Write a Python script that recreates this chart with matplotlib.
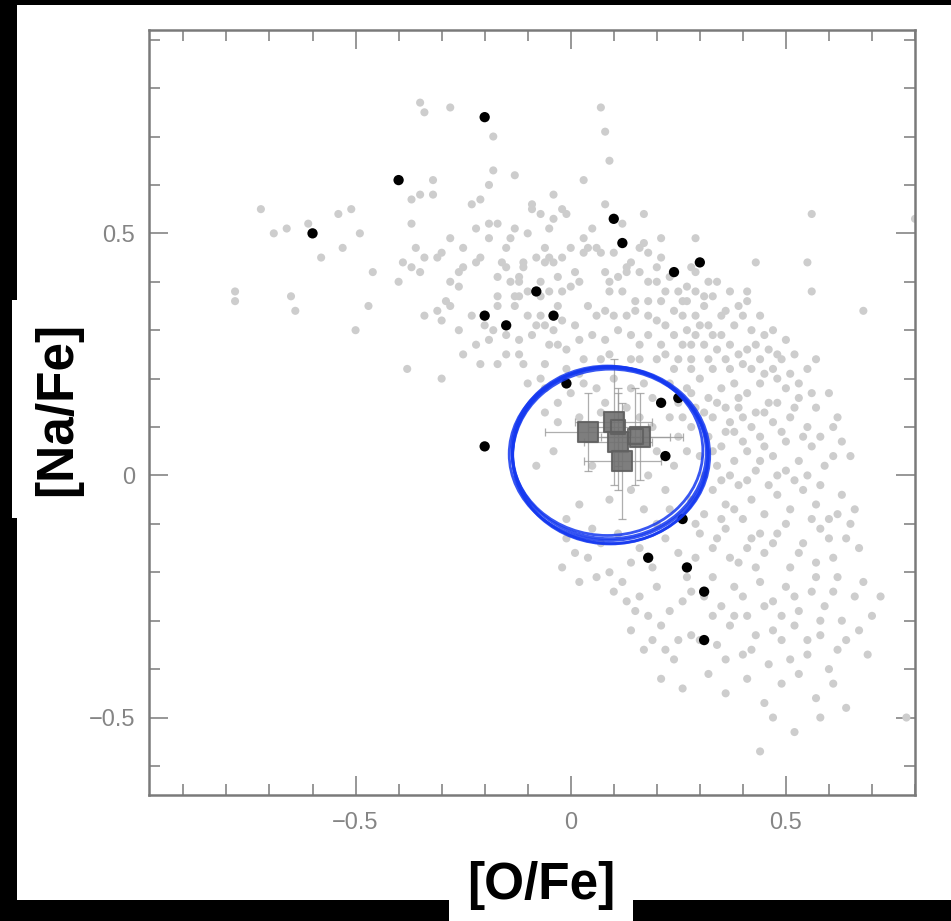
import matplotlib
matplotlib.use("Agg")
import matplotlib.pyplot as plt
from matplotlib.patches import Ellipse, Rectangle
from matplotlib.ticker import MultipleLocator

# ---------------- data ----------------
# comparison sample (light grey points): ([O/Fe], [Na/Fe])
grey_pts = [
    (-0.35,0.77),(-0.34,0.75),(-0.28,0.76),(-0.18,0.70),(-0.18,0.63),(-0.13,0.62),(-0.32,0.61),
    (-0.32,0.58),(-0.35,0.58),(-0.37,0.57),(-0.19,0.60),(-0.21,0.57),(-0.23,0.56),(-0.09,0.56),
    (-0.09,0.55),(-0.07,0.54),(-0.04,0.58),(-0.72,0.55),(-0.66,0.51),(-0.69,0.50),(-0.61,0.52),
    (-0.54,0.54),(-0.51,0.55),(-0.49,0.50),(-0.58,0.45),(-0.53,0.47),(-0.46,0.42),(-0.40,0.40),
    (-0.37,0.52),(-0.36,0.47),(-0.34,0.45),(-0.39,0.44),(-0.37,0.43),(-0.35,0.42),(-0.28,0.49),
    (-0.30,0.46),(-0.31,0.45),(-0.25,0.47),(-0.22,0.51),(-0.19,0.49),(-0.19,0.52),(-0.17,0.52),
    (-0.14,0.49),(-0.13,0.51),(-0.10,0.50),(-0.05,0.51),(-0.04,0.53),(-0.06,0.47),(-0.05,0.45),
    (-0.04,0.44),(-0.21,0.45),(-0.22,0.44),(-0.16,0.44),(-0.15,0.43),(-0.11,0.44),(-0.11,0.43),
    (-0.12,0.41),(-0.12,0.40),(-0.25,0.43),(-0.26,0.42),(-0.28,0.40),(-0.26,0.39),(-0.17,0.41),
    (-0.17,0.37),(-0.17,0.35),(-0.13,0.37),(-0.12,0.37),(-0.13,0.35),(-0.07,0.40),(-0.07,0.37),
    (-0.05,0.38),(-0.29,0.36),(-0.28,0.35),(-0.31,0.34),(-0.30,0.32),(-0.34,0.33),(-0.47,0.35),
    (-0.50,0.30),(-0.78,0.38),(-0.78,0.36),(-0.65,0.37),(-0.64,0.34),(-0.10,0.33),(-0.07,0.33),
    (-0.20,0.31),(-0.18,0.30),(-0.08,0.31),(-0.09,0.29),(-0.04,0.30),(-0.05,0.27),(-0.19,0.28),
    (-0.25,0.25),(-0.21,0.23),(-0.17,0.23),(-0.15,0.25),(-0.12,0.25),(-0.11,0.23),(-0.38,0.22),
    (-0.30,0.20),(-0.07,0.20),
    (-0.15,0.47),(-0.08,0.45),(-0.02,0.45),(-0.10,0.38),(-0.14,0.40),(-0.03,0.35),(-0.15,0.29),
    (-0.12,0.28),(-0.23,0.33),(-0.26,0.30),(-0.22,0.27),(-0.01,0.26),(-0.06,0.23),(-0.01,0.22),
    (0.07,0.76),(0.08,0.71),(0.09,0.65),(0.03,0.61),(0.08,0.56),(0.17,0.54),(-0.02,0.55),
    (-0.01,0.54),(0.05,0.51),(0.12,0.52),(0.21,0.49),(0.29,0.49),(0.17,0.48),(0.16,0.47),
    (0.18,0.46),(0.14,0.44),(0.13,0.43),(0.10,0.46),(0.03,0.49),(0.00,0.47),(0.03,0.46),
    (0.04,0.47),(0.06,0.47),(0.07,0.46),(0.21,0.45),(0.20,0.43),(0.28,0.43),(0.29,0.42),
    (0.32,0.40),(0.43,0.44),(0.55,0.44),(0.56,0.54),(0.56,0.38),(0.68,0.34),(0.80,0.53),
    (0.37,0.38),(0.41,0.38),(0.41,0.36),(0.39,0.35),(0.44,0.33),(0.42,0.30),(0.46,0.26),
    (0.48,0.25),(0.49,0.24),(0.57,0.24),(0.47,0.22),(-0.06,0.44),(-0.03,0.41),(-0.02,0.38),
    (0.00,0.39),(0.02,0.40),(0.01,0.42),(0.08,0.42),(0.09,0.40),(0.11,0.41),(0.13,0.42),
    (0.16,0.42),(0.18,0.40),(0.20,0.40),(0.22,0.38),(0.25,0.38),(0.27,0.39),(0.29,0.38),
    (0.31,0.37),(0.33,0.37),(0.27,0.36),(0.21,0.36),(0.18,0.36),(0.15,0.36),(0.12,0.38),
    (0.09,0.38),(0.04,0.35),(0.06,0.33),(0.08,0.34),(0.10,0.33),(0.13,0.33),(0.15,0.34),
    (0.18,0.33),(0.20,0.32),(0.26,0.33),(0.29,0.33),(0.32,0.31),(0.33,0.29),(0.35,0.29),
    (0.37,0.27),(0.39,0.25),(-0.06,0.31),(-0.02,0.32),(0.01,0.31),(0.02,0.28),(-0.03,0.27),
    (0.03,0.24),(0.05,0.29),(0.08,0.28),(0.11,0.30),(0.14,0.29),(0.16,0.27),(0.18,0.29),
    (0.21,0.27),(0.24,0.29),(0.26,0.27),(0.28,0.27),(0.29,0.29),(0.22,0.25),(0.25,0.24),
    (0.28,0.24),(0.32,0.24),(0.33,0.22),(0.20,0.24),(0.16,0.24),(0.14,0.24),(0.09,0.25),
    (0.07,0.24),(0.24,0.22),(0.28,0.22),(0.40,0.23),(0.37,0.22),(0.42,0.22),
    (0.23,0.41),(0.26,0.36),(0.31,0.35),(0.34,0.40),(0.36,0.34),(0.38,0.31),(0.40,0.33),
    (0.45,0.29),(0.43,0.27),(0.35,0.33),(0.24,0.34),(0.22,0.31),(0.27,0.30),(0.30,0.31),
    (0.34,0.26),(0.31,0.27),(0.36,0.24),(0.41,0.26),(0.44,0.24),(0.48,0.20),(0.45,0.21),
    (0.51,0.21),(0.53,0.19),(0.55,0.22),(0.52,0.25),(0.50,0.28),(0.47,0.30),
    # lower part of the cloud
    (0.00,0.17),(0.03,0.19),(0.06,0.18),(0.10,0.20),(0.14,0.18),(0.17,0.19),(0.19,0.16),
    (0.23,0.19),(0.27,0.18),(0.30,0.20),(0.32,0.16),(0.35,0.18),(0.38,0.19),(0.41,0.17),
    (0.44,0.19),(0.46,0.15),(0.50,0.18),(0.53,0.16),(0.57,0.14),(0.60,0.17),(0.29,0.14),
    (0.33,0.12),(0.36,0.14),(0.40,0.12),(0.43,0.13),(0.47,0.11),(0.51,0.12),(0.55,0.10),
    (0.39,0.16),(0.26,0.12),(-0.06,0.13),(-0.03,0.11),(0.62,0.12),
    (0.25,0.15),(0.28,0.17),(0.31,0.13),(0.34,0.15),(0.37,0.11),(0.39,0.14),(0.42,0.10),
    (0.45,0.13),(0.48,0.15),(0.49,0.09),(0.52,0.14),(0.56,0.17),(0.58,0.08),(0.61,0.10),
    (0.54,0.08),(0.45,0.06),(0.40,0.07),(0.36,0.09),(0.33,0.05),(0.30,0.04),
    (0.32,0.08),(0.35,0.06),(0.38,0.09),(0.41,0.05),(0.44,0.08),(0.47,0.04),(0.50,0.07),
    (0.53,0.03),(0.56,0.06),(0.59,0.02),(0.63,0.07),(0.65,0.04),(0.34,0.02),(0.37,0.00),
    (0.43,0.01),(0.48,0.00),(-0.04,0.05),(-0.08,0.02),
    (0.31,0.00),(0.35,-0.01),(0.38,0.03),(0.41,-0.01),(0.44,0.03),(0.46,-0.02),(0.50,0.01),
    (0.52,-0.01),(0.55,0.00),(0.58,-0.02),(0.61,0.04),
    (0.33,-0.03),(0.36,-0.06),(0.39,-0.02),(0.42,-0.05),(0.45,-0.08),(0.48,-0.04),(0.51,-0.07),
    (0.54,-0.03),(0.57,-0.06),(0.60,-0.09),(0.63,-0.04),(0.66,-0.07),(0.40,-0.09),(0.31,-0.08),
    (0.02,-0.06),(-0.01,-0.09),
    (0.56,-0.09),(0.50,-0.10),(0.44,-0.12),(0.38,-0.07),(0.35,-0.09),(0.34,-0.13),(0.41,-0.15),
    (0.47,-0.14),(0.53,-0.16),(0.57,-0.18),(0.60,-0.13),(0.62,-0.08),(0.65,-0.10),(0.67,-0.15),
    (0.43,-0.19),(0.37,-0.17),(0.29,-0.17),(0.23,-0.07),(0.28,-0.05),(0.29,-0.10),(0.20,-0.10),
    (0.16,-0.15),(0.05,-0.11),(0.01,-0.16),(-0.02,-0.19),
    (-0.01,-0.13),(0.04,-0.17),(0.07,-0.14),(0.11,-0.12),(0.14,-0.18),(0.22,-0.13),(0.25,-0.16),
    (0.30,-0.12),(0.33,-0.15),(0.36,-0.11),(0.39,-0.18),(0.42,-0.13),(0.45,-0.16),(0.48,-0.12),
    (0.51,-0.19),(0.54,-0.14),(0.58,-0.11),(0.61,-0.17),(0.64,-0.13),(0.19,-0.19),(0.09,-0.20),
    (0.12,-0.22),(0.16,-0.25),(0.20,-0.23),(0.23,-0.28),(0.28,-0.24),(0.33,-0.21),(0.35,-0.27),
    (0.38,-0.23),(0.41,-0.29),(0.44,-0.22),(0.47,-0.26),(0.50,-0.23),(0.53,-0.28),(0.56,-0.24),
    (0.59,-0.27),(0.62,-0.21),(0.66,-0.25),(0.70,-0.29),
    (0.27,-0.21),(0.31,-0.25),(0.26,-0.26),(0.40,-0.25),(0.45,-0.27),(0.49,-0.29),(0.52,-0.25),
    (0.57,-0.21),(0.58,-0.30),(0.61,-0.24),(0.63,-0.30),(0.68,-0.22),(0.72,-0.25),(0.38,-0.29),
    (0.33,-0.29),(0.18,-0.29),(0.15,-0.28),(0.13,-0.26),(0.10,-0.24),(0.06,-0.21),(0.02,-0.22),
    (0.14,-0.32),(0.17,-0.36),(0.21,-0.31),(0.24,-0.38),(0.28,-0.33),(0.34,-0.35),(0.37,-0.31),
    (0.40,-0.37),(0.43,-0.33),(0.46,-0.39),(0.49,-0.34),(0.52,-0.31),(0.55,-0.37),(0.58,-0.33),
    (0.62,-0.36),(0.67,-0.32),
    (0.30,-0.34),(0.36,-0.38),(0.42,-0.36),(0.47,-0.32),(0.51,-0.38),(0.55,-0.34),(0.60,-0.40),
    (0.64,-0.34),(0.69,-0.37),(0.25,-0.34),(0.19,-0.34),(0.22,-0.36),
    (0.21,-0.42),(0.26,-0.44),(0.32,-0.41),(0.36,-0.45),(0.41,-0.42),(0.45,-0.47),(0.49,-0.43),
    (0.53,-0.41),(0.57,-0.46),(0.61,-0.43),(0.64,-0.48),(0.47,-0.50),(0.58,-0.50),(0.78,-0.50),
    (0.44,-0.57),(0.52,-0.53),
    # inside the highlighted region
    (0.08,0.15),(0.13,0.14),(0.16,0.12),(0.19,0.10),(0.20,0.05),(0.18,0.00),(0.14,-0.03),
    (0.09,-0.05),(0.05,0.02),(0.02,0.12),(0.07,0.13),(0.23,0.12),(0.25,0.08),(0.24,0.02),
    (0.27,0.05),(0.28,0.10),(0.22,-0.03),(0.17,-0.07),(-0.06,0.18),(-0.10,0.19),(-0.03,0.15),
    (0.02,0.21),(-0.02,0.20),
]
grey_x = [p[0] for p in grey_pts]
grey_y = [p[1] for p in grey_pts]

# target stars (black dots)
black_x = [-0.20, -0.40, -0.60, 0.10, 0.12, 0.24, 0.30, -0.08, -0.20, -0.15, -0.04,
           -0.01, 0.21, 0.25, -0.20, 0.22, 0.26, 0.18, 0.27, 0.31, 0.31]
black_y = [0.74, 0.61, 0.50, 0.53, 0.48, 0.42, 0.44, 0.38, 0.33, 0.31, 0.33,
           0.19, 0.15, 0.16, 0.06, 0.04, -0.09, -0.17, -0.19, -0.24, -0.34]

# mean values with error bars (grey squares)
sq_x = [0.04, 0.10, 0.11, 0.16, 0.12, 0.11, 0.15]
sq_y = [0.09, 0.11, 0.07, 0.08, 0.03, 0.10, 0.08]
sq_xerr = [0.10, 0.09, 0.08, 0.10, 0.09, 0.07, 0.08]
sq_yerr = [0.08, 0.13, 0.10, 0.09, 0.12, 0.08, 0.10]
sq_filled = [True, True, True, True, True, False, False]

# hand-drawn highlight ellipse: centre, width, height (data units)
ell_center = (0.09, 0.047)
ell_width = 0.45
ell_height = 0.355

xlim = (-0.98, 0.80)
ylim = (-0.66, 0.92)

# ---------------- figure ----------------
W, H = 951, 921
fig = plt.figure(figsize=(W / 100, H / 100), dpi=100)
fig.patch.set_facecolor("black")
fig.add_artist(Rectangle((17 / W, 21 / H), (W - 17) / W, (H - 26) / H,
                         transform=fig.transFigure, facecolor="white",
                         edgecolor="none", zorder=0))

ax = fig.add_axes([149 / W, (H - 795) / H, (915 - 149) / W, (795 - 30) / H])
ax.set_facecolor("white")

ax.scatter(grey_x, grey_y, s=34, color="#cdcdcd", edgecolors="none", zorder=2)

for x, y, xe, ye, f in zip(sq_x, sq_y, sq_xerr, sq_yerr, sq_filled):
    ax.errorbar(x, y, xerr=xe, yerr=ye, fmt="none", ecolor="#9a9a9a",
                elinewidth=0.9, capsize=3, capthick=0.9, alpha=0.8, zorder=3)
    ax.scatter([x], [y], marker="s", s=200 if f else 110,
               facecolor="#707070" if f else "none",
               edgecolor="#606060", linewidths=1.5, alpha=0.9, zorder=4)

ax.scatter(black_x, black_y, s=55, color="black", edgecolors="none", zorder=5)

# sketchy blue ellipse: a few overlapping strokes
offsets = [(0.0, 0.0, 0.0, 0.0), (0.004, -0.005, 0.008, 0.010),
           (-0.005, 0.004, -0.006, -0.005), (0.002, -0.008, 0.004, 0.006),
           (-0.002, -0.003, 0.012, 0.002)]
for dx, dy, dw, dh in offsets:
    ax.add_patch(Ellipse((ell_center[0] + dx, ell_center[1] + dy),
                         ell_width + dw, ell_height + dh,
                         fill=False, edgecolor="#1438f0", linewidth=2.0,
                         alpha=0.85, zorder=6))

ax.set_xlim(*xlim)
ax.set_ylim(*ylim)
ax.xaxis.set_major_locator(MultipleLocator(0.5))
ax.xaxis.set_minor_locator(MultipleLocator(0.1))
ax.yaxis.set_major_locator(MultipleLocator(0.5))
ax.yaxis.set_minor_locator(MultipleLocator(0.1))

def fmt(v, pos):
    if abs(v) < 1e-9:
        return "0"
    return ("\u2212" if v < 0 else "") + f"{abs(v):.1f}"

ax.xaxis.set_major_formatter(plt.FuncFormatter(fmt))
ax.yaxis.set_major_formatter(plt.FuncFormatter(fmt))

for s in ax.spines.values():
    s.set_color("#7a7a7a")
    s.set_linewidth(1.8)
ax.tick_params(which="both", direction="in", top=True, right=True,
               color="#7a7a7a", width=1.1)
ax.tick_params(which="major", length=14)
ax.tick_params(which="minor", length=8)
ax.tick_params(axis="x", which="major", pad=12, labelsize=17, labelcolor="#858585")
ax.tick_params(axis="y", which="major", pad=10, labelsize=17, labelcolor="#858585")
for lab in ax.get_xticklabels() + ax.get_yticklabels():
    lab.set_family(["Liberation Sans", "DejaVu Sans"])

fig.text(58 / W, (H - 409) / H, "[Na/Fe]", rotation=90, ha="center", va="center",
         fontsize=37, fontweight="bold", family=["Liberation Sans", "DejaVu Sans"],
         color="black",
         bbox=dict(boxstyle="square,pad=0.42", facecolor="white", edgecolor="none"))
fig.text(541 / W, (H - 885) / H, "[O/Fe]", ha="center", va="center",
         fontsize=37, fontweight="bold", family=["Liberation Sans", "DejaVu Sans"],
         color="black",
         bbox=dict(boxstyle="square,pad=0.35", facecolor="white", edgecolor="none"))

fig.savefig("out.png", dpi=100, facecolor=fig.get_facecolor())
